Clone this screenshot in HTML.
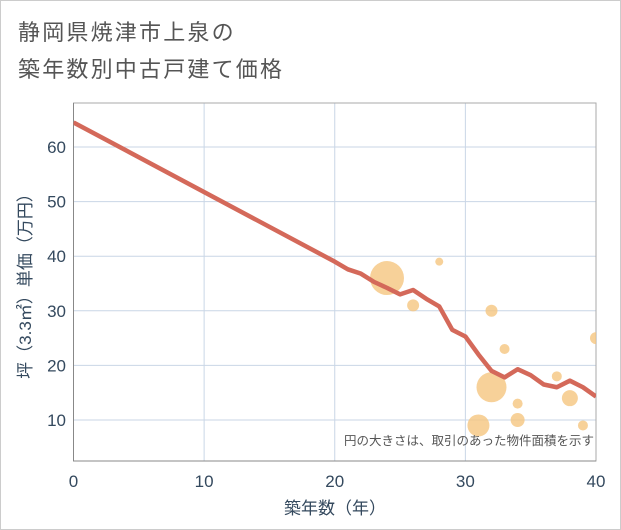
<!DOCTYPE html>
<html><head><meta charset="utf-8"><style>
body{margin:0;background:#fff;font-family:"Liberation Sans","Noto Sans CJK JP",sans-serif}
#wrap{position:relative;width:619px;height:528px;border:1px solid #ccc;background:#fff}
h1{position:absolute;left:17px;top:13px;margin:0;font-size:22px;font-weight:normal;color:#555;line-height:37px;letter-spacing:2.2px}
</style></head><body>
<div id="wrap">
<h1>静岡県焼津市上泉の<br>築年数別中古戸建て価格</h1>
<svg id="c" width="621" height="530" style="position:absolute;left:-1px;top:-1px"></svg>
</div>
<script>
const lineYears=[0,20,21,22,23,24,25,26,27,28,29,30,31,32,33,34,35,36,37,38,39,40];
const lineValues=[64.5,39,37.6,36.8,35.3,34.2,33,33.8,32.2,30.8,26.5,25.3,22,19,17.8,19.3,18.2,16.5,16,17.2,16,14.3];
const bubbleYears=[24,26,28,32,33,40,32,31,34,34,37,38,39];
const bubbleValues=[36,31,39,30,23,25,16,9,13,10,18,14,9];
const bubbleSizes=[17,6,4,6,5,6,15,11,5,7,5,8,5];
const xTicks=[0,10,20,30,40];
const yTicks=[10,20,30,40,50,60];
const NS="http://www.w3.org/2000/svg";
const svg=document.getElementById('c');
const L=73.5,R=596,T=103,B=461;
const x=v=>L+(v-0)/40*(R-L);
const y=v=>147+(60-v)*5.46;
function mk(t,a,p){const e=document.createElementNS(NS,t);for(const k in a)e.setAttribute(k,a[k]);(p||svg).appendChild(e);return e;}
const clip=mk('clipPath',{id:'cl'});mk('rect',{x:L,y:T,width:R-L,height:B-T},clip);
xTicks.forEach(t=>{const g=mk('line',{x1:x(t),x2:x(t),y1:T,y2:B,stroke:'#c9d6e6','stroke-width':1});

const tx=mk('text',{x:x(t),y:487,'text-anchor':'middle','font-size':17,fill:'#34495e'});tx.textContent=t;
});
yTicks.forEach(t=>{const g=mk('line',{x1:L,x2:R,y1:y(t),y2:y(t),stroke:'#c9d6e6','stroke-width':1});

const tx=mk('text',{x:66,y:y(t)+6,'text-anchor':'end','font-size':17,fill:'#34495e'});tx.textContent=t;
});
const fr=mk('rect',{x:L,y:T,width:R-L,height:B-T,fill:'none',stroke:'#aaa','stroke-width':1});

const ax=mk('polyline',{points:`${L},${T} ${L},${B} ${R},${B}`,fill:'none',stroke:'#888','stroke-width':1});

const bg=mk('g',{'clip-path':'url(#cl)'});
bubbleYears.forEach((yr,i)=>{const c=mk('circle',{cx:x(yr),cy:y(bubbleValues[i]),r:bubbleSizes[i],fill:'#f5c57f','fill-opacity':0.8},bg);
});
const pl=mk('polyline',{points:lineYears.map((v,i)=>x(v)+','+y(lineValues[i])).join(' '),fill:'none',stroke:'#d4695a','stroke-width':4.5,'stroke-linejoin':'round'},bg);

const n=mk('text',{x:594,y:445,'text-anchor':'end','font-size':12.5,fill:'#555'});n.textContent='円の大きさは、取引のあった物件面積を示す';

const xt=mk('text',{x:335,y:514,'text-anchor':'middle','font-size':17,fill:'#34495e'});xt.textContent='築年数（年）';

const yt=mk('text',{x:0,y:0,'text-anchor':'middle','font-size':17,fill:'#34495e',transform:'translate(31,282) rotate(-90)'});yt.textContent='坪（3.3㎡）単価（万円）';

</script>
</body></html>
